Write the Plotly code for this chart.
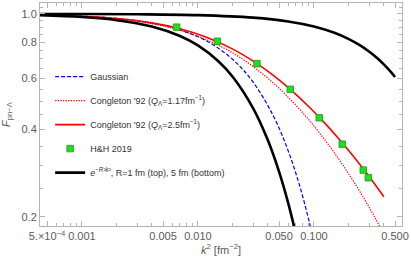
import plotly.graph_objects as go

# ---------------- data ----------------
k2_congleton = [0.0004, 0.001, 0.002, 0.004, 0.007, 0.012, 0.02, 0.03, 0.045,
                0.065, 0.09, 0.12, 0.16, 0.21, 0.27, 0.33, 0.4]
F_congleton_117 = [0.9916, 0.9794, 0.9600, 0.9245, 0.8777, 0.8131, 0.7329, 0.6580,
                   0.5763, 0.4997, 0.4325, 0.3750, 0.3205, 0.2724, 0.2315, 0.2014, 0.1747]
F_congleton_25 = [0.9923, 0.9812, 0.9635, 0.9311, 0.8884, 0.8294, 0.7562, 0.6876,
                  0.6127, 0.5422, 0.4800, 0.4265, 0.3755, 0.3299, 0.2906, 0.2612, 0.2348]

k2_gauss = [0.0004, 0.001, 0.002, 0.004, 0.007, 0.012, 0.02, 0.03, 0.045, 0.06,
            0.075, 0.09, 0.105]
F_gauss = [0.9928, 0.9821, 0.9645, 0.9302, 0.8810, 0.8048, 0.6963, 0.5810, 0.4429,
           0.3376, 0.2573, 0.1962, 0.1495]

k2_exp_top = [0.0004, 0.001, 0.003, 0.01, 0.03, 0.06, 0.1, 0.15, 0.2, 0.25, 0.3,
              0.35, 0.4, 0.45, 0.5]
F_exp_top = [0.9996, 0.9990, 0.9970, 0.9900, 0.9704, 0.9418, 0.9048, 0.8607, 0.8187,
             0.7788, 0.7408, 0.7047, 0.6703, 0.6376, 0.6065]

k2_exp_bot = [0.0004, 0.001, 0.002, 0.004, 0.007, 0.01, 0.015, 0.02, 0.03, 0.04,
              0.05, 0.06, 0.07]
F_exp_bot = [0.9900, 0.9753, 0.9512, 0.9048, 0.8395, 0.7788, 0.6873, 0.6065, 0.4724,
             0.3679, 0.2865, 0.2231, 0.1738]

k2_hh = [0.00655, 0.01467, 0.03226, 0.06246, 0.1111, 0.1754, 0.266, 0.294]
F_hh = [0.900, 0.805, 0.674, 0.550, 0.439, 0.356, 0.290, 0.273]

x_tickvals = [0.0005, 0.001, 0.005, 0.01, 0.05, 0.1, 0.5]
x_ticktext = ["5.×10<sup>−4</sup>", "0.001", "0.005", "0.010", "0.050", "0.100", "0.500"]
x_minor = [0.0006, 0.0007, 0.0008, 0.0009, 0.002, 0.003, 0.004, 0.006, 0.007, 0.008,
           0.009, 0.02, 0.03, 0.04, 0.06, 0.07, 0.08, 0.09, 0.2, 0.3, 0.4]
y_tickvals = [0.2, 0.4, 0.6, 0.8, 1.0]
y_ticktext = ["0.2", "0.4", "0.6", "0.8", "1.0"]
y_minor = [0.25, 0.3, 0.35, 0.45, 0.5, 0.55, 0.65, 0.7, 0.75, 0.85, 0.9, 0.95, 1.05]

FONT = "Liberation Sans, Arial, sans-serif"
GRAY = "#5a5a5a"
FRAME = "#b4b4b4"

fig = go.Figure()

fig.add_trace(go.Scatter(
    x=k2_gauss, y=F_gauss, mode="lines", name="Gaussian",
    line=dict(color="#0000ff", width=1.2, dash="4px,2px", shape="spline"),
    legendgroup="g1", legendrank=1))
fig.add_trace(go.Scatter(
    x=k2_congleton, y=F_congleton_117, mode="lines",
    name="Congleton '92 (<i>Q</i><sub>Λ</sub>=1.17fm<sup>−1</sup>)",
    line=dict(color="#ff0000", width=1.2, dash="1.3px,1.3px", shape="spline"),
    legendgroup="g2", legendrank=2))
fig.add_trace(go.Scatter(
    x=k2_congleton, y=F_congleton_25, mode="lines",
    name="Congleton '92 (<i>Q</i><sub>Λ</sub>=2.5fm<sup>−1</sup>)",
    line=dict(color="#ff0000", width=1.6, shape="spline"),
    legendgroup="g3", legendrank=3))
fig.add_trace(go.Scatter(
    x=k2_exp_top, y=F_exp_top, mode="lines",
    name="<i>e</i><sup>−<i>R</i>²<i>k</i>²</sup>, R=1 fm (top), 5 fm (bottom)",
    line=dict(color="#000000", width=2.6, shape="spline"),
    legendgroup="g5", legendrank=5))
fig.add_trace(go.Scatter(
    x=k2_exp_bot, y=F_exp_bot, mode="lines", showlegend=False,
    line=dict(color="#000000", width=2.6, shape="spline"),
    legendgroup="g5"))
fig.add_trace(go.Scatter(
    x=k2_hh, y=F_hh, mode="markers", name="H&H 2019",
    marker=dict(symbol="square", size=6.5, color="#22dd22",
                line=dict(color="#169c16", width=0.8)),
    legendgroup="g4", legendrank=4))

axis_common = dict(
    type="log", showline=True, linecolor=FRAME, linewidth=1, mirror="allticks",
    ticks="inside", ticklen=5, tickcolor=FRAME, tickwidth=1, showgrid=False,
    zeroline=False, tickmode="array",
    tickfont=dict(family=FONT, size=11, color=GRAY),
)

fig.update_xaxes(
    **axis_common, range=[-3.3615, -0.2411], tickvals=x_tickvals, ticktext=x_ticktext,
    tickangle=0,
    minor=dict(tickmode="array", tickvals=x_minor, ticks="inside", ticklen=3,
               tickcolor=FRAME, showgrid=False),
    title=dict(text="<i>k</i><sup>2</sup> [fm<sup>−2</sup>]",
               font=dict(family=FONT, size=11, color=GRAY), standoff=4),
)
fig.update_yaxes(
    **axis_common, range=[-0.730, 0.0374], tickvals=y_tickvals, ticktext=y_ticktext,
    minor=dict(tickmode="array", tickvals=y_minor, ticks="inside", ticklen=3,
               tickcolor=FRAME, showgrid=False),
    title=dict(text="<i>F</i><sub>pn−Λ</sub>",
               font=dict(family=FONT, size=11, color=GRAY), standoff=8),
)

fig.update_layout(
    width=411, height=263,
    margin=dict(l=40, r=9, t=3, b=37),
    paper_bgcolor="white", plot_bgcolor="white",
    showlegend=True,
    legend=dict(x=0.028, y=0.735, xanchor="left", yanchor="top",
                bgcolor="rgba(0,0,0,0)", borderwidth=0,
                font=dict(family=FONT, size=9, color="#333333"),
                tracegroupgap=5, itemwidth=30),
)

fig.write_html("out.html",
               config={"displayModeBar": False, "staticPlot": True},
               post_script="document.body.style.margin='0';document.body.style.padding='0';")
